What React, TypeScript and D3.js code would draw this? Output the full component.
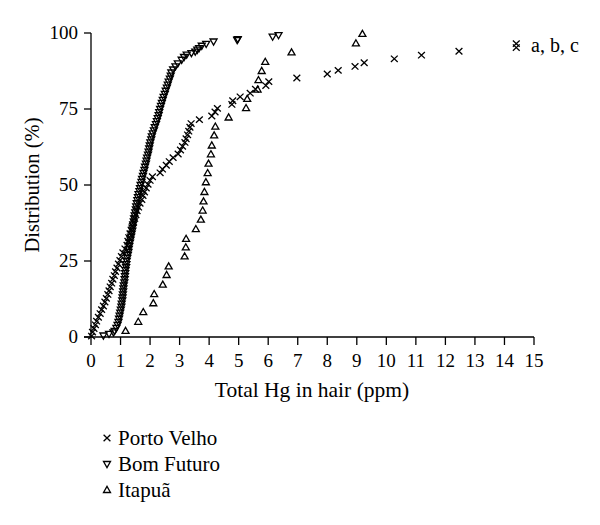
import React from 'react';
import * as d3 from 'd3';

// Total Hg in hair (ppm) vs cumulative distribution (%)
const portoVelho: [number, number][] = [
  [0.02, 0.3], [0.05, 1.6], [0.1, 2.8], [0.15, 4.0], [0.19, 5.2], [0.25, 6.5], [0.31, 7.7],
  [0.36, 9.0], [0.42, 10.2], [0.47, 11.5], [0.52, 12.7], [0.57, 14.0], [0.61, 15.2],
  [0.65, 16.5], [0.7, 17.7], [0.74, 19.0], [0.79, 20.2], [0.83, 21.5], [0.88, 22.7],
  [0.93, 24.0], [0.98, 25.2], [1.03, 26.5], [1.08, 27.7], [1.15, 29.0], [1.22, 30.2],
  [1.25, 31.5], [1.28, 32.7], [1.32, 34.0], [1.36, 35.2], [1.4, 36.5], [1.44, 37.7],
  [1.48, 39.0], [1.52, 40.2], [1.56, 41.5], [1.61, 42.7], [1.66, 44.0], [1.72, 45.2],
  [1.76, 46.5], [1.81, 47.7], [1.87, 49.0], [1.93, 50.2], [2.0, 51.5], [2.08, 52.7],
  [2.34, 54.0], [2.42, 55.2], [2.55, 56.5], [2.65, 57.7], [2.78, 59.0], [2.95, 60.2],
  [3.03, 61.5], [3.1, 62.7], [3.18, 64.0], [3.22, 65.2], [3.27, 66.5], [3.31, 67.7],
  [3.35, 69.0], [3.39, 70.2], [3.67, 71.5], [4.09, 72.7], [4.2, 74.0], [4.28, 75.2],
  [4.77, 76.5], [4.8, 77.7], [5.05, 79.0], [5.39, 80.2], [5.57, 81.5], [5.92, 82.7],
  [6.02, 84.0], [6.97, 85.2], [8.0, 86.5], [8.37, 87.7], [8.94, 89.0], [9.25, 90.2],
  [10.27, 91.5], [11.19, 92.7], [12.46, 94.0], [14.4, 95.2], [14.4, 96.5],
];

const bomFuturo: [number, number][] = [
  [0.42, 0.5], [0.61, 1.0], [0.76, 1.5], [0.8, 2], [0.86, 3], [0.9, 4], [0.93, 5], [0.95, 6],
  [0.97, 7], [0.99, 8], [1.01, 9], [1.03, 10], [1.04, 11], [1.06, 12], [1.07, 13], [1.08, 14],
  [1.09, 15], [1.1, 16], [1.11, 17], [1.13, 18], [1.14, 19], [1.15, 20], [1.16, 21], [1.17, 22],
  [1.19, 23], [1.2, 24], [1.21, 25], [1.23, 26], [1.25, 27], [1.27, 28], [1.28, 29], [1.3, 30],
  [1.32, 31], [1.34, 32], [1.36, 33], [1.38, 34], [1.4, 35], [1.41, 36], [1.43, 37], [1.45, 38],
  [1.46, 39], [1.48, 40], [1.5, 41], [1.52, 42], [1.53, 43], [1.55, 44], [1.57, 45], [1.59, 46],
  [1.61, 47], [1.64, 48], [1.66, 49], [1.68, 50], [1.71, 51], [1.73, 52], [1.76, 53], [1.78, 54],
  [1.81, 55], [1.83, 56], [1.86, 57], [1.88, 58], [1.9, 59], [1.93, 60], [1.95, 61], [1.97, 62],
  [1.99, 63], [2.01, 64], [2.04, 65], [2.06, 66], [2.09, 67], [2.13, 68], [2.16, 69], [2.2, 70],
  [2.23, 71], [2.26, 72], [2.29, 73], [2.31, 74], [2.34, 75], [2.37, 76], [2.4, 77], [2.43, 78],
  [2.46, 79], [2.5, 80], [2.53, 81], [2.57, 82], [2.6, 83], [2.63, 84], [2.67, 85], [2.7, 86],
  [2.72, 87], [2.78, 88], [2.86, 89], [2.94, 90], [3.07, 91.2], [3.15, 92.1], [3.24, 92.9],
  [3.4, 93.4], [3.53, 93.9], [3.6, 94.5], [3.66, 95], [3.75, 95.8], [3.9, 96.4], [4.15, 97.2],
  [4.95, 97.7], [4.97, 98.0], [6.15, 98.8], [6.35, 99.3],
];

const itapua: [number, number][] = [
  [1.17, 2.0], [1.6, 5.0], [1.77, 8.2], [2.11, 11.1], [2.14, 14.1], [2.43, 17.2], [2.56, 20.4],
  [2.63, 23.2], [3.17, 26.5], [3.21, 29.5], [3.22, 32.3], [3.55, 35.5], [3.72, 38.6],
  [3.78, 41.6], [3.81, 44.6], [3.84, 47.7], [3.89, 50.9], [3.95, 53.9], [3.98, 57.0],
  [4.06, 60.1], [4.09, 63.0], [4.17, 66.3], [4.21, 69.2], [4.66, 72.2], [5.25, 75.3],
  [5.29, 78.3], [5.64, 81.4], [5.67, 84.5], [5.78, 87.5], [5.9, 90.5], [6.79, 93.6],
  [8.97, 96.6], [9.19, 99.7],
];

const xTicks = d3.range(0, 16);
const yTicks = [0, 25, 50, 75, 100];
const legendNames = ['Porto Velho', 'Bom Futuro', 'Itapuã'];

const crossPath = 'M-3.4,-3.2L3.4,3.2M-3.4,3.2L3.4,-3.2';
const upPath = 'M0,-3.6L3.5,2.5L-3.5,2.5Z';
const downPath = 'M-3.5,-2.5L3.5,-2.5L0,3.6Z';
const shapes = [crossPath, downPath, upPath];

const font = "'Liberation Serif', 'Times New Roman', serif";

const App = () => {
  const x = d3.scaleLinear().domain([0, 15]).range([91, 534]);
  const y = d3.scaleLinear().domain([0, 100]).range([337, 33]);

  const series = [portoVelho, bomFuturo, itapua];

  return (
    <svg
      width={600}
      height={525}
      style={{ position: 'absolute', left: 0, top: 0, background: '#fff' }}
      fontFamily={font}
    >
      {/* axes */}
      <g stroke="#000" strokeWidth={1.3}>
        <line x1={84} x2={x(15)} y1={y(0)} y2={y(0)} />
        <line x1={x(0)} x2={x(0)} y1={y(0)} y2={y(100)} />
        {xTicks.map(t => (
          <line key={'xt' + t} x1={x(t)} x2={x(t)} y1={y(0)} y2={y(0) + 8} />
        ))}
        {yTicks.map(t => (
          <line key={'yt' + t} x1={x(0) - 7} x2={x(0)} y1={y(t)} y2={y(t)} />
        ))}
      </g>
      <g fontSize={19} fill="#000">
        {xTicks.map(t => (
          <text key={'xl' + t} x={x(t)} y={367} textAnchor="middle">{t}</text>
        ))}
        {yTicks.map(t => (
          <text key={'yl' + t} x={78} y={y(t) + 6} textAnchor="end">{t}</text>
        ))}
      </g>
      <text x={312} y={397} fontSize={21.5} textAnchor="middle">Total Hg in hair (ppm)</text>
      <text
        transform={`translate(39,${y(50)}) rotate(-90)`}
        fontSize={20.5}
        textAnchor="middle"
      >
        Distribution (%)
      </text>

      {/* data */}
      {series.map((s, i) => (
        <g key={'s' + i} fill="none" stroke="#000" strokeWidth={1.3}>
          {s.map((d, j) => (
            <path key={j} d={shapes[i]} transform={`translate(${x(d[0])},${y(d[1])})`} />
          ))}
        </g>
      ))}
      <text x={531} y={52} fontSize={20}>a, b, c</text>

      {/* legend */}
      {legendNames.map((name, i) => (
        <g key={name} transform={`translate(0,${438 + i * 26})`}>
          <path d={shapes[i]} transform="translate(107,0)" fill="none" stroke="#000" strokeWidth={1.3} />
          <text x={118} y={7} fontSize={21}>{name}</text>
        </g>
      ))}
    </svg>
  );
};

export default App;
